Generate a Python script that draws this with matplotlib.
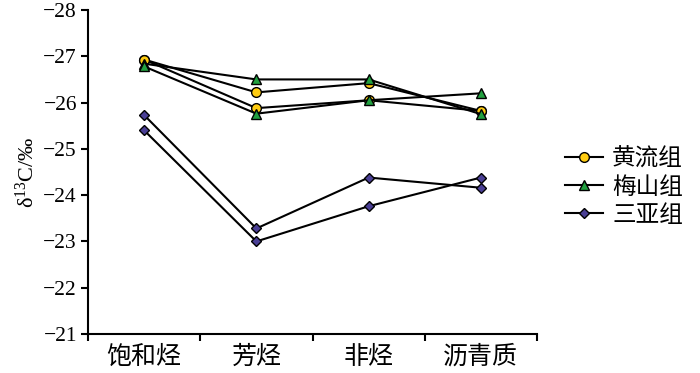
import numpy as np
import matplotlib
matplotlib.use('Agg')
import matplotlib.pyplot as plt
from matplotlib.lines import Line2D

plt.rcParams['font.family'] = ['Noto Sans CJK SC', 'DejaVu Sans']
plt.rcParams['mathtext.default'] = 'regular'
plt.rcParams['axes.unicode_minus'] = True

# categories
cats = ['饱和烃', '芳烃', '非烃', '沥青质']

# 黄流组 (two samples)
hl_1 = [-26.93, -26.22, -26.42, -25.82]
hl_2 = [-26.93, -25.88, -26.05, -25.82]
# 梅山组 (two samples)
ms_1 = [-26.84, -26.50, -26.50, -25.75]
ms_2 = [-26.78, -25.76, -26.05, -26.20]
# 三亚组 (two samples)
sy_1 = [-25.73, -23.28, -24.38, -24.16]
sy_2 = [-25.40, -23.00, -23.76, -24.38]

yticks = [-28, -27, -26, -25, -24, -23, -22, -21]

c_yel = '#FFCC11'
c_grn = '#22A040'
c_pur = '#4A3F95'

fig = plt.figure(figsize=(7, 3.73), dpi=100)
ax = fig.add_axes([88/700, 1-334/373, (537-88)/700, (334-10)/373])

x = np.arange(len(cats))
for s in [hl_1, hl_2]:
    ax.plot(x, s, '-', color='black', lw=1.5, marker='o', ms=7,
            mfc=c_yel, mec='black', mew=1.0, zorder=3)
for s in [ms_1, ms_2]:
    ax.plot(x, s, '-', color='black', lw=1.5, marker='^', ms=7.5,
            mfc=c_grn, mec='black', mew=1.0, zorder=4)
for s in [sy_1, sy_2]:
    ax.plot(x, s, '-', color='black', lw=1.5, marker='D', ms=5.5,
            mfc=c_pur, mec='black', mew=1.0, zorder=5)

ax.set_xlim(-0.5, len(cats)-0.5)
ax.set_ylim(-21, -28)
ax.set_yticks(yticks)
ax.set_yticklabels(['\u2212%d' % abs(v) for v in yticks],
                   fontfamily='Liberation Serif', fontsize=15.5)
ax.set_xticks(x)
ax.set_xticklabels(cats, fontsize=18)
ax.set_xticks(np.arange(len(cats)+1)-0.5, minor=True)
ax.tick_params(axis='x', which='major', length=0, pad=7)
ax.tick_params(axis='x', which='minor', length=5, width=1.5, direction='out')
ax.tick_params(axis='y', length=5, width=1.5, direction='out', pad=3, colors='black')
for sp in ['top', 'right']:
    ax.spines[sp].set_visible(False)
for sp in ['left', 'bottom']:
    ax.spines[sp].set_linewidth(1.5)

ax.set_ylabel('δ$^{13}$C/‰', fontfamily='Liberation Serif', fontsize=16, labelpad=3)

handles = [
    Line2D([], [], color='black', lw=1.5, marker='o', ms=7, mfc=c_yel, mec='black'),
    Line2D([], [], color='black', lw=1.5, marker='^', ms=7.5, mfc=c_grn, mec='black'),
    Line2D([], [], color='black', lw=1.5, marker='D', ms=5.5, mfc=c_pur, mec='black'),
]
fig.legend(handles, ['黄流组', '梅山组', '三亚组'], loc='center left',
           bbox_to_anchor=(553/700, 1-187/373), frameon=False,
           prop={'size': 17},
           handlelength=1.6, handletextpad=0.4, labelspacing=0.22, borderpad=0)

fig.savefig('out.png', dpi=100)
